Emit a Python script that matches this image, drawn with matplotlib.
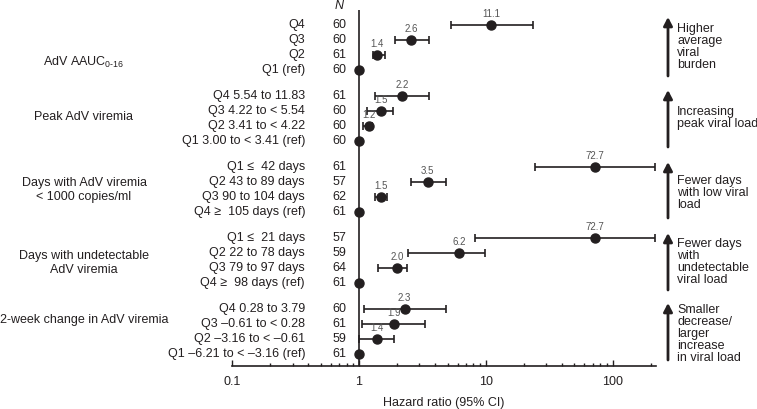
import matplotlib
matplotlib.use("Agg")
import matplotlib.pyplot as plt
import matplotlib.transforms as mtransforms
import numpy as np

plt.rcParams['font.family'] = ['Liberation Sans', 'DejaVu Sans']
plt.rcParams['mathtext.fontset'] = 'custom'
plt.rcParams['mathtext.rm'] = 'Liberation Sans'

# groups of the forest plot, top to bottom
group_names = [
    "AdV AAUC$_{\\mathregular{0\u201016}}$",
    "Peak AdV viremia",
    "Days with AdV viremia\n< 1000 copies/ml",
    "Days with undetectable\nAdV viremia",
    "2-week change in AdV viremia",
]
row_labels = [
    ["Q4", "Q3", "Q2", "Q1 (ref)"],
    ["Q4 5.54 to 11.83", "Q3 4.22 to < 5.54", "Q2 3.41 to < 4.22", "Q1 3.00 to < 3.41 (ref)"],
    ["Q1 \u2264  42 days", "Q2 43 to 89 days", "Q3 90 to 104 days", "Q4 \u2265  105 days (ref)"],
    ["Q1 \u2264  21 days", "Q2 22 to 78 days", "Q3 79 to 97 days", "Q4 \u2265  98 days (ref)"],
    ["Q4 0.28 to 3.79", "Q3 \u20130.61 to < 0.28", "Q2 \u20133.16 to < \u20130.61", "Q1 \u20136.21 to < \u20133.16 (ref)"],
]
n_values = [
    [60, 60, 61, 60],
    [61, 60, 60, 60],
    [61, 57, 62, 61],
    [57, 59, 64, 61],
    [60, 61, 59, 61],
]
hr = [
    [11.1, 2.6, 1.4, 1.0],
    [2.2, 1.5, 1.2, 1.0],
    [72.7, 3.5, 1.5, 1.0],
    [72.7, 6.2, 2.0, 1.0],
    [2.3, 1.9, 1.4, 1.0],
]
ci_low = [
    [5.3, 1.94, 1.29, None],
    [1.34, 1.16, 1.08, None],
    [24.3, 2.57, 1.35, None],
    [8.3, 2.44, 1.41, None],
    [1.09, 1.06, 1.01, None],
]
ci_high = [
    [23.4, 3.57, 1.61, None],
    [3.57, 1.87, 1.26, None],
    [217, 4.9, 1.68, None],
    [217, 9.8, 2.40, None],
    [4.9, 3.31, 1.89, None],
]
arrow_texts = [
    "Higher\naverage\nviral\nburden",
    "Increasing\npeak viral load",
    "Fewer days\nwith low viral\nload",
    "Fewer days\nwith\nundetectable\nviral load",
    "Smaller\ndecrease/\nlarger\nincrease\nin viral load",
]

W, H = 757, 409
fig = plt.figure(figsize=(W / 100, H / 100), dpi=100)

def fx(px):
    return px / W

def fy(px):
    return 1 - px / H

ax = fig.add_axes([fx(232), fy(366), fx(656) - fx(232), fy(10) - fy(366)])
ax.set_xscale('log')
ax.set_xlim(0.1, 220)
ylo, yhi = (366 - 25) / 15, (10 - 25) / 15
ax.set_ylim(ylo, yhi)

txt = '#231f20'
gap = 0.73
ax.axvline(1, color=txt, lw=1.2, zorder=1)

trans = mtransforms.blended_transform_factory(fig.transFigure, ax.transData)
group_label_y = [2.47, 6.13, 11.0, 15.87, 19.67]

for g in range(len(group_names)):
    base = g * (4 + gap)
    ax.text(fx(84), group_label_y[g], group_names[g], transform=trans,
            ha='center', va='center', fontsize=9, color=txt, linespacing=1.25)
    for i in range(4):
        y = base + i
        ax.text(fx(305), y, row_labels[g][i], transform=trans,
                ha='right', va='center', fontsize=9, color=txt)
        ax.text(fx(339), y, str(n_values[g][i]), transform=trans,
                ha='center', va='center', fontsize=9, color=txt)
        if ci_low[g][i] is not None:
            ax.errorbar(hr[g][i], y,
                        xerr=[[hr[g][i] - ci_low[g][i]], [ci_high[g][i] - hr[g][i]]],
                        fmt='o', color=txt, ms=6.5, capsize=3.2, elinewidth=1.2,
                        capthick=1.2, zorder=3, clip_on=False)
            ax.annotate(f"{hr[g][i]:.1f}", (hr[g][i], y), xytext=(0, 4.5),
                        textcoords='offset points', ha='center', va='bottom',
                        fontsize=7, color='#555555')
        else:
            ax.plot(hr[g][i], y, 'o', color=txt, ms=6.5, zorder=3, clip_on=False)

ax.text(fx(339), fy(6), "N", transform=fig.transFigure, ha='center', va='center',
        fontsize=9, style='italic', color=txt)

# arrows on the right
arrow_px = [(17, 76), (90, 147), (162, 218), (233, 290), (303, 360)]
text_y = [47, 118, 193, 262, 334]
for (top, bot), t, ty in zip(arrow_px, arrow_texts, text_y):
    fig.add_artist(matplotlib.patches.FancyArrowPatch(
        (fx(668), fy(bot)), (fx(668), fy(top)), transform=fig.transFigure,
        arrowstyle='-|>,head_length=5,head_width=2.6', lw=2.0, color=txt,
        mutation_scale=1, shrinkA=0, shrinkB=0))
    fig.text(fx(677), fy(ty), t, ha='left', va='center', fontsize=9,
             color=txt, linespacing=1.02)

for s in ['left', 'top', 'right']:
    ax.spines[s].set_visible(False)
ax.spines['bottom'].set_color(txt)
ax.spines['bottom'].set_linewidth(1.2)
ax.set_yticks([])
ax.set_xticks([0.1, 1, 10, 100])
ax.set_xticklabels(["0.1", "1", "10", "100"])
ax.tick_params(axis='x', which='major', direction='in', length=4, width=1, pad=7,
               labelsize=9, colors=txt)
ax.tick_params(axis='x', which='minor', direction='in', length=2.5, width=1, colors=txt)
ax.set_xlabel("Hazard ratio (95% CI)", fontsize=9, color=txt, labelpad=7)

fig.savefig("out.png", dpi=100)
